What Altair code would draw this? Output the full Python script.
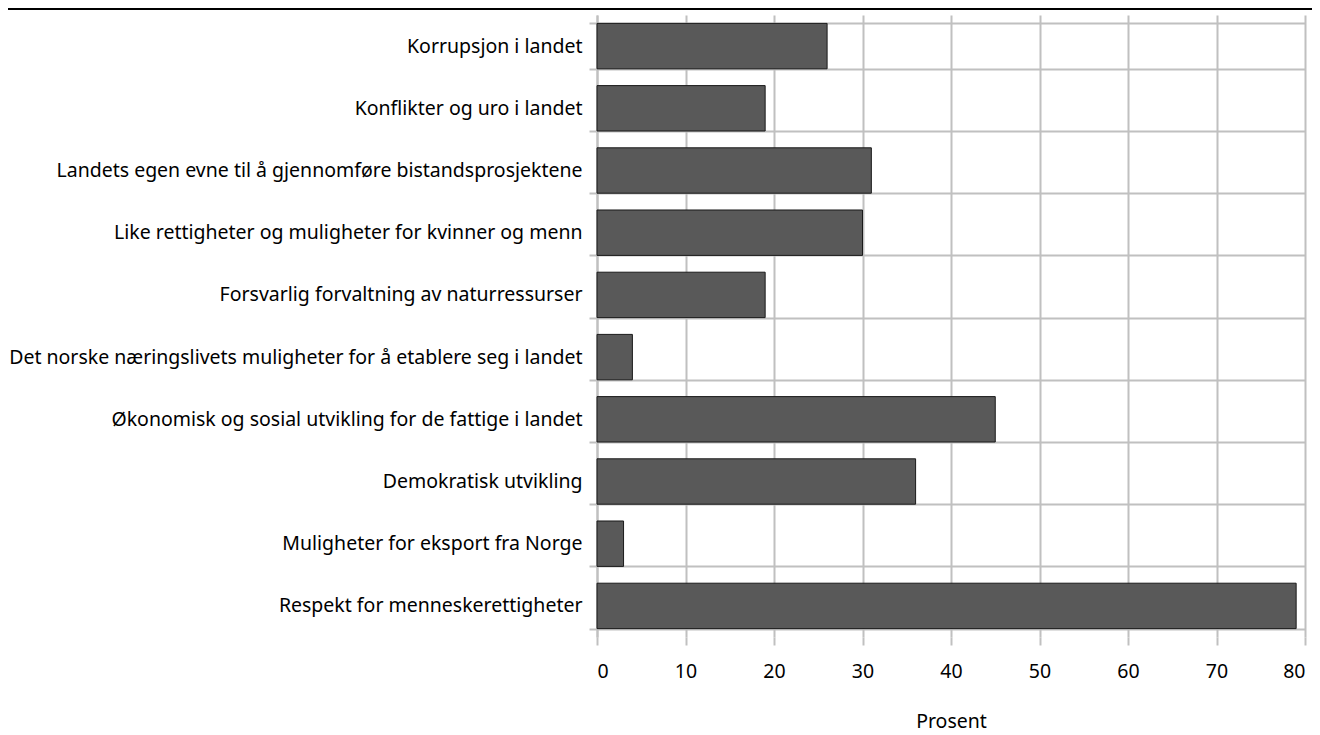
import altair as alt
import pandas as pd

categories = [
    "Korrupsjon i landet",
    "Konflikter og uro i landet",
    "Landets egen evne til å gjennomføre bistandsprosjektene",
    "Like rettigheter og muligheter for kvinner og menn",
    "Forsvarlig forvaltning av naturressurser",
    "Det norske næringslivets muligheter for å etablere seg i landet",
    "Økonomisk og sosial utvikling for de fattige i landet",
    "Demokratisk utvikling",
    "Muligheter for eksport fra Norge",
    "Respekt for menneskerettigheter",
]
values = [26, 19, 31, 30, 19, 4, 45, 36, 3, 79]
x_ticks = [0, 10, 20, 30, 40, 50, 60, 70, 80]

df = pd.DataFrame({"kategori": categories, "prosent": values})

FONT = "Noto Sans"
GRID = "#c0c0c0"
FS = 19.5

bars = alt.Chart(df).mark_bar(
    color="#595959", stroke="#1a1a1a", strokeWidth=1
).encode(
    x=alt.X(
        "prosent:Q",
        scale=alt.Scale(domain=[0, 80], nice=False),
        axis=alt.Axis(
            values=x_ticks,
            title="Prosent",
            grid=True,
            gridColor=GRID,
            gridWidth=2,
            domain=False,
            tickColor=GRID,
            tickWidth=2,
            tickSize=8,
            labelPadding=17,
            labelFontSize=FS,
            labelFont=FONT,
            labelColor="#000000",
            titleFont=FONT,
            titleFontSize=FS,
            titleFontWeight="normal",
            titleColor="#000000",
            titlePadding=32,
        ),
    ),
    y=alt.Y(
        "kategori:N",
        sort=categories,
        scale=alt.Scale(paddingInner=0.27, paddingOuter=0.135),
        axis=alt.Axis(
            title=None,
            tickBand="extent",
            grid=True,
            gridColor=GRID,
            gridWidth=2,
            domainColor=GRID,
            domainWidth=2,
            tickColor=GRID,
            tickWidth=2,
            tickSize=8,
            labelPadding=7,
            labelFontSize=FS,
            labelFont=FONT,
            labelColor="#000000",
            labelLimit=0,
        ),
    ),
)

topline = alt.Chart(df).mark_rule(color="#000000", strokeWidth=2).encode(
    x=alt.value(-600), x2=alt.value(740), y=alt.value(-6)
)

chart = alt.layer(bars, topline).properties(
    width=708,
    height=622,
    autosize=alt.AutoSizeParams(type="none"),
    padding={"left": 589, "top": 7, "right": 7, "bottom": 98},
).configure_view(stroke=None)

chart.save("out.html", embed_options={"renderer": "svg", "actions": False})
